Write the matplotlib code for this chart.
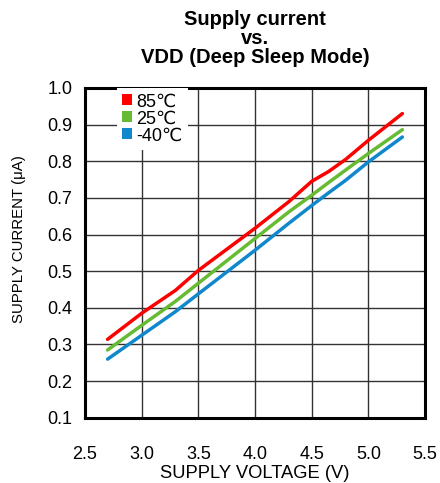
import matplotlib.pyplot as plt
from matplotlib.patches import Patch

plt.rcParams['font.family'] = ['Liberation Sans', 'DejaVu Sans']

volt = [2.7, 3.0, 3.3, 3.5, 4.0, 4.3, 4.5, 4.65, 4.8, 5.0, 5.3]
i_85 = [0.314, 0.385, 0.448, 0.502, 0.617, 0.69, 0.745, 0.772, 0.805, 0.857, 0.93]
i_25 = [0.285, 0.352, 0.418, 0.467, 0.589, 0.662, 0.707, 0.742, 0.776, 0.821, 0.886]
i_m40 = [0.26, 0.325, 0.39, 0.438, 0.557, 0.631, 0.679, 0.714, 0.748, 0.798, 0.866]
labels = ['85\u2103', '25\u2103', '-40\u2103']
colors = ['#ff0000', '#66bb33', '#1188cc']

fig = plt.figure(figsize=(4.4, 4.83), dpi=100)
ax = fig.add_axes([0.193, 0.135, 0.773, 0.683])

for y, lab, c in zip([i_85, i_25, i_m40], labels, colors):
    ax.plot(volt, y, color=c, lw=2.5, solid_capstyle='round')

ax.set_xlim(2.5, 5.5)
ax.set_ylim(0.1, 1.0)
ax.set_xticks([2.5, 3.0, 3.5, 4.0, 4.5, 5.0, 5.5])
ax.set_yticks([0.1, 0.2, 0.3, 0.4, 0.5, 0.6, 0.7, 0.8, 0.9, 1.0])
ax.set_xticklabels(['2.5', '3.0', '3.5', '4.0', '4.5', '5.0', '5.5'])
ax.set_yticklabels(['0.1', '0.2', '0.3', '0.4', '0.5', '0.6', '0.7', '0.8', '0.9', '1.0'])
ax.tick_params(axis='x', length=0, labelsize=13, pad=20)
ax.tick_params(axis='y', length=0, labelsize=13, pad=9)
ax.grid(True, color='#333333', lw=1.0)
ax.set_axisbelow(True)
for s in ax.spines.values():
    s.set_linewidth(2.2)

ax.set_xlabel('SUPPLY VOLTAGE (V)', fontsize=13.2, labelpad=1.5)
ax.set_ylabel('SUPPLY CURRENT (\u03bcA)', fontsize=10.8)
ax.yaxis.set_label_coords(-0.172, 0.542)
ax.set_title('Supply current\nvs.\nVDD (Deep Sleep Mode)', fontsize=14.5,
             fontweight='bold', linespacing=1.0, pad=18)

handles = [Patch(facecolor=c, edgecolor='none') for c in colors]
leg = ax.legend(handles, labels, loc='upper left', bbox_to_anchor=(0.094, 1.0),
                frameon=True, fontsize=13, handlelength=0.55, handleheight=0.55,
                handletextpad=0.2, labelspacing=0.0, borderpad=0.3,
                borderaxespad=0.0, fancybox=False)
leg.get_frame().set_edgecolor('none')
leg.get_frame().set_facecolor('white')
leg.get_frame().set_alpha(1)

fig.savefig('out.png', dpi=100)
